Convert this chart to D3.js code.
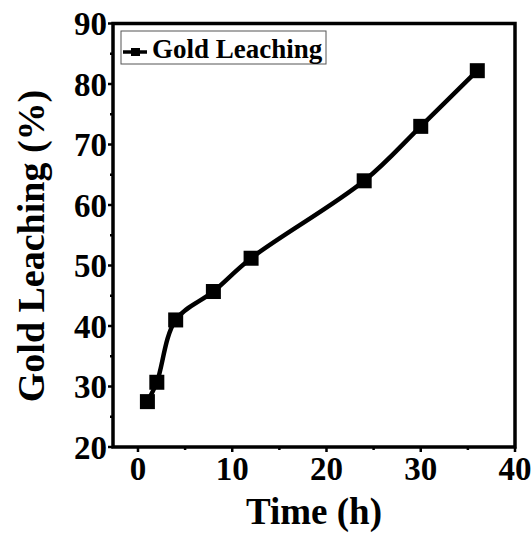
<!DOCTYPE html>
<html><head><meta charset="utf-8">
<script src="https://cdn.jsdelivr.net/npm/d3@7"></script>
<style>body{margin:0;background:#fff;overflow:hidden}svg{display:block}text{font-family:"Liberation Serif","Times New Roman",serif;font-weight:bold;fill:#000}</style>
</head><body>
<script>
const timeH = [1, 2, 4, 8, 12, 24, 30, 36];
const leaching = [27.5, 30.7, 41.0, 45.7, 51.2, 64.0, 73.0, 82.2];
const xTicks = [0, 10, 20, 30, 40];
const yTicks = [20, 30, 40, 50, 60, 70, 80, 90];
const seriesName = "Gold Leaching";

const W = 532, H = 533;
const L = 113, R = 515, T = 23.5, B = 447;
const svg = d3.select("body").append("svg").attr("width", W).attr("height", H);
const x = d3.scaleLinear().domain([-2.65, 40]).range([L, R]);
const y = d3.scaleLinear().domain([20, 90]).range([B, T]);

const xMinor = d3.range(5, 40, 10);
const yMinor = d3.range(25, 90, 10);
svg.selectAll(".xmin").data(xMinor).enter().append("line")
  .attr("x1", d => x(d)).attr("x2", d => x(d)).attr("y1", B).attr("y2", B + 3)
  .attr("stroke", "#000").attr("stroke-width", 2.5);
svg.selectAll(".ymin").data(yMinor).enter().append("line")
  .attr("y1", d => y(d)).attr("y2", d => y(d)).attr("x1", L).attr("x2", L - 3)
  .attr("stroke", "#000").attr("stroke-width", 2.5);
svg.selectAll(".xmaj").data(xTicks).enter().append("line")
  .attr("x1", d => x(d)).attr("x2", d => x(d)).attr("y1", B).attr("y2", B + 5)
  .attr("stroke", "#000").attr("stroke-width", 2.5);
svg.selectAll(".ymaj").data(yTicks).enter().append("line")
  .attr("y1", d => y(d)).attr("y2", d => y(d)).attr("x1", L).attr("x2", L - 5)
  .attr("stroke", "#000").attr("stroke-width", 2.5);

svg.append("rect").attr("x", L).attr("y", T).attr("width", R - L).attr("height", B - T)
  .attr("fill", "none").attr("stroke", "#000").attr("stroke-width", 3.5);

svg.selectAll(".xl").data(xTicks).enter().append("text")
  .attr("x", d => x(d)).attr("y", 480).attr("text-anchor", "middle")
  .attr("font-size", 33).text(d => d);
svg.selectAll(".yl").data(yTicks).enter().append("text")
  .attr("x", 107).attr("y", d => y(d) + 11.5).attr("text-anchor", "end")
  .attr("font-size", 33).text(d => d);

svg.append("text").attr("x", (L + R) / 2).attr("y", 524).attr("text-anchor", "middle")
  .attr("font-size", 37).text("Time (h)");
svg.append("text").attr("transform", "translate(44," + 246 + ") rotate(-90)")
  .attr("text-anchor", "middle").attr("font-size", 38).text("Gold Leaching (%)");

const pts = timeH.map((t, i) => [t, leaching[i]]);
svg.append("path").datum(pts)
  .attr("d", d3.line().x(d => x(d[0])).y(d => y(d[1])).curve(d3.curveCatmullRom.alpha(0.5)))
  .attr("fill", "none").attr("stroke", "#000").attr("stroke-width", 4.5);
svg.selectAll(".m").data(pts).enter().append("rect")
  .attr("x", d => x(d[0]) - 7.5).attr("y", d => y(d[1]) - 7.5)
  .attr("width", 15).attr("height", 15).attr("fill", "#000");

svg.append("rect").attr("x", 121).attr("y", 31).attr("width", 205).attr("height", 33)
  .attr("fill", "#fff").attr("stroke", "#555").attr("stroke-width", 1);
svg.append("line").attr("x1", 123).attr("x2", 147).attr("y1", 52).attr("y2", 52)
  .attr("stroke", "#000").attr("stroke-width", 3.5);
svg.append("rect").attr("x", 131).attr("y", 48).attr("width", 9).attr("height", 8).attr("fill", "#000");
svg.append("text").attr("x", 152).attr("y", 58).attr("font-size", 27).text(seriesName);
</script>
</body></html>
